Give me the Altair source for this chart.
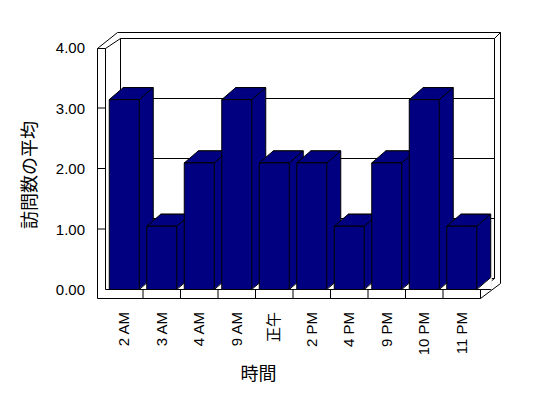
import altair as alt
import pandas as pd

# ---------------- data ----------------
categories = ["2 AM", "3 AM", "4 AM", "9 AM", "正午", "2 PM", "4 PM", "9 PM", "10 PM", "11 PM"]
values = [3, 1, 2, 3, 2, 2, 1, 2, 3, 1]
y_ticks = [0, 1, 2, 3, 4]
x_title = "時間"
y_title = "訪問数の平均"

# ---------------- style / geometry ----------------
NAVY = "#000080"
W, H = 406, 270
BW = 30           # bar width (band)
DX, DY = 14, -12  # bar depth offset
FLOOR = 259       # front floor edge (pixels in plot area)

bars = pd.DataFrame({"time": categories, "avg": values})
ticks = pd.DataFrame({"v": y_ticks})
bounds = pd.DataFrame({"time": categories[1:]})

# decorative 3D frame (walls / floor), pixel coordinates inside the plot area
frame_segments = [
    (0, 18, 0, 268), (8, 18, 8, 259), (0, 18, 8, 18),
    (0, 18, 20, 2), (8, 18, 23, 8), (20, 2, 403, 2),
    (397, 8, 403, 2), (403, 2, 403, 253), (397, 8, 397, 248),
    (23, 8, 23, 248), (8, 259, 383, 259), (0, 268, 383, 268),
    (383, 259, 383, 268), (383, 259, 397, 248), (383, 268, 403, 253),
]
frame = pd.DataFrame(frame_segments, columns=["x", "y", "x2", "y2"])

x_scale = alt.Scale(domain=categories, range=[8, 383], paddingInner=0.2, paddingOuter=0.1)
x_back = alt.Scale(domain=categories, range=[8 + DX, 383 + DX], paddingInner=0.2, paddingOuter=0.1)
bar_y = alt.Scale(domain=[0, 4], range=[FLOOR, 5.8])
back_y = alt.Scale(domain=[0, 4], range=[FLOOR + DY, 5.8 + DY])
axis_y = alt.Scale(domain=[0, 4], range=[259, 17])
wall_y = alt.Scale(domain=[0, 4], range=[248, 8])

h = BW / 2
TOP_PATH = f"M{-h},0 L{-h + DX},{DY} L{h + DX},{DY} L{h},0 Z"
TRI_FILL = f"M{h},-0.5 L{h + DX + 1},-0.5 L{h + DX + 1},{DY - 1} Z"
TRI_LINE = f"M{h},0 L{h + DX},{DY}"

def xenc(axis=None, scale=x_scale, **kw):
    return alt.X("time:N", scale=scale, sort=categories, axis=axis, **kw)

x_axis = alt.Axis(
    domain=False, ticks=False, grid=False, labelAngle=270,
    labelFont="Liberation Sans, Noto Sans CJK JP", labelFontSize=15, labelColor="black",
    labelPadding=11, title=x_title, titleFont="Noto Sans CJK JP", titleFontSize=18,
    titleFontWeight="normal", titleColor="black", titleX=160.5, titleY=74,
    titleAlign="center", titleBaseline="middle",
)
y_axis = alt.Axis(
    values=y_ticks, format=".2f", domain=False, ticks=False, grid=False,
    labelFont="Liberation Sans", labelFontSize=15, labelColor="black", labelPadding=13,
    title=y_title, titleFont="Noto Sans CJK JP", titleFontSize=18, titleFontWeight="normal",
    titleColor="black", titleX=-67, titleY=144, titleAngle=270,
    titleAlign="center", titleBaseline="middle",
)

frame_layer = alt.Chart(frame).mark_rule(color="black", strokeWidth=1).encode(
    x=alt.X("x:Q", scale=None, axis=None), x2="x2:Q",
    y=alt.Y("y:Q", scale=None, axis=None), y2="y2:Q",
)

grid_layer = alt.Chart(ticks).mark_rule(color="black", strokeWidth=1).encode(
    y=alt.Y("v:Q", scale=wall_y, axis=None), x=alt.value(23), x2=alt.value(397)
)

axis_layer = alt.Chart(ticks).mark_rule(color="black", strokeWidth=1).encode(
    y=alt.Y("v:Q", scale=axis_y, axis=y_axis), x=alt.value(0), x2=alt.value(8)
).transform_filter("datum.v > 0 && datum.v < 4")

bound_layer = alt.Chart(bounds).mark_rule(color="black", strokeWidth=1, xOffset=-3.75).encode(
    x=xenc(bandPosition=0), y=alt.value(259), y2=alt.value(268)
)

back_layer = alt.Chart(bars).mark_bar(
    fill=NAVY, stroke="black", strokeWidth=1, opacity=1,
).encode(
    x=xenc(scale=x_back),
    y=alt.Y("avg:Q", scale=back_y, axis=None, stack=None),
    y2=alt.value(FLOOR),
)

top_layer = alt.Chart(bars).mark_point(
    shape=TOP_PATH, size=4, filled=True, fill=NAVY, stroke="black", strokeWidth=1, opacity=1
).encode(x=xenc(), y=alt.Y("avg:Q", scale=bar_y, axis=None))

tri_fill_layer = alt.Chart(bars).mark_point(
    shape=TRI_FILL, size=4, filled=True, fill="white", strokeWidth=0, opacity=1
).encode(x=xenc(), y=alt.Y("zero:Q", scale=bar_y, axis=None)).transform_calculate(zero="0")

tri_line_layer = alt.Chart(bars).mark_point(
    shape=TRI_LINE, size=4, filled=False, stroke="black", strokeWidth=1, opacity=1
).encode(x=xenc(), y=alt.Y("zero:Q", scale=bar_y, axis=None)).transform_calculate(zero="0")

front_layer = alt.Chart(bars).mark_bar(
    fill=NAVY, stroke="black", strokeWidth=1, opacity=1
).encode(x=xenc(axis=x_axis), y=alt.Y("avg:Q", scale=bar_y, axis=None))

chart = alt.layer(
    frame_layer, grid_layer, axis_layer, bound_layer,
    back_layer, top_layer, tri_fill_layer, tri_line_layer, front_layer,
).resolve_scale(x="independent", y="independent").properties(
    width=W, height=H,
    autosize=alt.AutoSizeParams(type="none"),
    padding={"left": 89.5, "top": 22.5, "right": 30, "bottom": 90},
    background="white",
).configure_view(stroke=None)

chart.save("out.html", embed_options={"renderer": "svg", "actions": False})
